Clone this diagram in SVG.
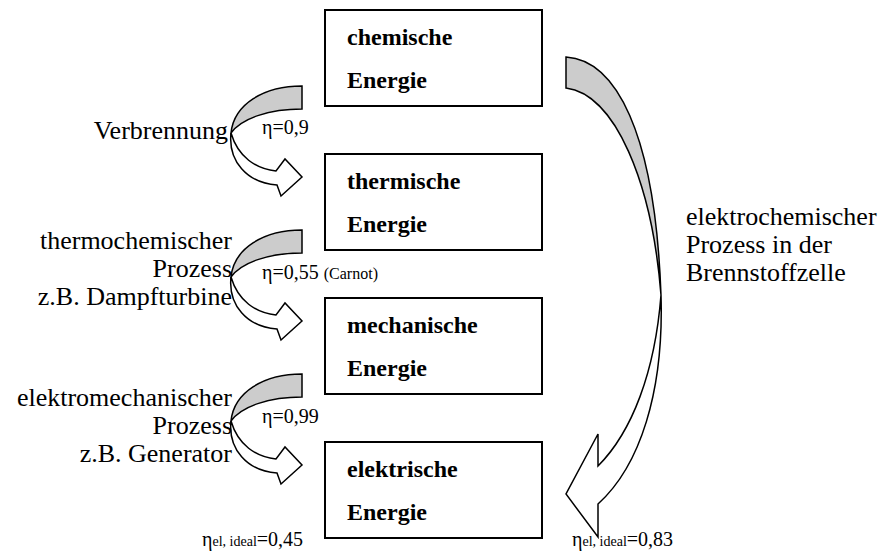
<svg xmlns="http://www.w3.org/2000/svg" width="880" height="551" viewBox="0 0 880 551">
<style>
text{font-family:"Liberation Serif","Times New Roman",serif;fill:#000}
.box{fill:#fff;stroke:#000;stroke-width:2}
.bt{font-size:24px;font-weight:bold}
.lbl{font-size:26px}
.eta{font-size:20px}
.sm{font-size:16px}
.sub{font-size:14px}
.back{fill:#cccccc;stroke:#000;stroke-width:1.5;stroke-linejoin:miter}
.front{fill:#fff;stroke:#000;stroke-width:1.5;stroke-linejoin:miter}
</style>
<defs>
  <g id="leftArrow">
    <path class="back" d="M302,86 C264,86 234,104 231,133 C242,118 270,109 302,109 Z"/>
    <path class="front" d="M231,133 C228,161 247,183 277,185 L281,196 L302,177 L285,159 L276,171 C256,169 238,157 231,133 Z"/>
  </g>
</defs>
<rect width="880" height="551" fill="#fff"/>
<g id="connectors">
  <use id="arrow1" href="#leftArrow"/>
  <use id="arrow2" href="#leftArrow" transform="translate(0,144)"/>
  <use id="arrow3" href="#leftArrow" transform="translate(0,288)"/>
  <g id="arrow-fuelcell">
    <path class="back" d="M566,57 C615,60 655,130 661,295 C652,182 615,94 566,88 Z"/>
    <path class="front" d="M661,295 C664,392 640,466 598,504 L598,537 L566,494 L598,434 L598,466 C632,432 655,372 661,295 Z"/>
  </g>
</g>
<g id="node-chem">
  <rect class="box" x="325" y="10" width="217" height="96"/>
  <text class="bt" x="347" y="45">chemische</text>
  <text class="bt" x="347" y="88">Energie</text>
</g>
<g id="node-therm">
  <rect class="box" x="325" y="154" width="217" height="96"/>
  <text class="bt" x="347" y="189">thermische</text>
  <text class="bt" x="347" y="232">Energie</text>
</g>
<g id="node-mech">
  <rect class="box" x="325" y="298" width="217" height="96"/>
  <text class="bt" x="347" y="333">mechanische</text>
  <text class="bt" x="347" y="376">Energie</text>
</g>
<g id="node-elek">
  <rect class="box" x="325" y="442" width="217" height="96"/>
  <text class="bt" x="347" y="477">elektrische</text>
  <text class="bt" x="347" y="520">Energie</text>
</g>
<g id="labels">
  <text class="lbl" x="228" y="139" text-anchor="end">Verbrennung</text>
  <text class="lbl" x="232" y="249" text-anchor="end">thermochemischer</text>
  <text class="lbl" x="232" y="277" text-anchor="end">Prozess</text>
  <text class="lbl" x="232" y="305" text-anchor="end">z.B. Dampfturbine</text>
  <text class="lbl" x="232" y="406" text-anchor="end">elektromechanischer</text>
  <text class="lbl" x="232" y="434" text-anchor="end">Prozess</text>
  <text class="lbl" x="232" y="462" text-anchor="end">z.B. Generator</text>
  <text class="lbl" x="686" y="225">elektrochemischer</text>
  <text class="lbl" x="686" y="253">Prozess in der</text>
  <text class="lbl" x="686" y="281">Brennstoffzelle</text>
  <text class="eta" x="262" y="134">η=0,9</text>
  <text class="eta" x="262" y="279">η=0,55 <tspan class="sm">(Carnot)</tspan></text>
  <text class="eta" x="262" y="423">η=0,99</text>
  <text class="eta" x="202" y="546">η<tspan class="sub">el, ideal</tspan>=0,45</text>
  <text class="eta" x="572" y="546">η<tspan class="sub">el, ideal</tspan>=0,83</text>
</g>
</svg>
